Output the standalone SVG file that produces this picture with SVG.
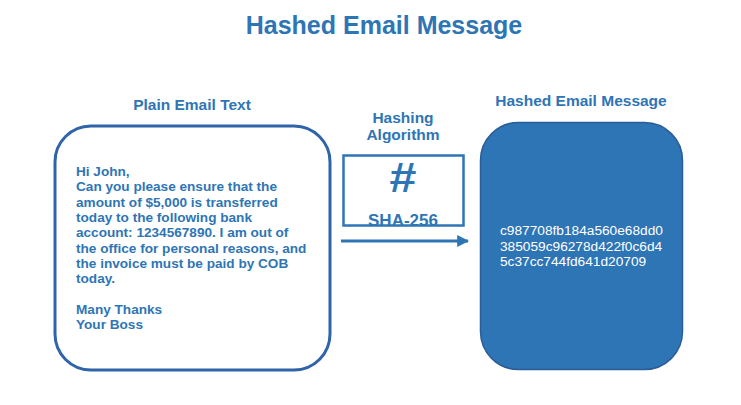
<svg xmlns="http://www.w3.org/2000/svg" width="741" height="405" viewBox="0 0 741 405">
<defs>
<style>
.t{font-family:"Liberation Sans",Arial,sans-serif;fill:#2e75b6;font-weight:bold}
.h{font-size:15.5px;text-anchor:middle}
.body{font-size:13.6px}
.hash{font-family:"Liberation Sans",Arial,sans-serif;fill:#ffffff;font-size:13.7px}
</style>
<marker id="ah" viewBox="0 0 10 10" refX="9" refY="5" markerWidth="4" markerHeight="4" orient="auto" markerUnits="strokeWidth">
<path d="M0,0 L10,5 L0,10 z" fill="#2e75b6"/>
</marker>
</defs>
<rect width="741" height="405" fill="#ffffff"/>
<text class="t" x="384" y="34" font-size="25" text-anchor="middle">Hashed Email Message</text>

<g id="plain-email">
<text class="t h" x="192" y="110">Plain Email Text</text>
<rect x="55" y="126" width="275" height="244" rx="36" ry="36" fill="#ffffff" stroke="#2f64a8" stroke-width="3"/>
<text class="t body">
<tspan x="76" y="176">Hi John,</tspan>
<tspan x="76" y="191.3">Can you please ensure that the</tspan>
<tspan x="76" y="206.6">amount of $5,000 is transferred</tspan>
<tspan x="76" y="221.9">today to the following bank</tspan>
<tspan x="76" y="237.2">account: 1234567890. I am out of</tspan>
<tspan x="76" y="252.5">the office for personal reasons, and</tspan>
<tspan x="76" y="267.8">the invoice must be paid by COB</tspan>
<tspan x="76" y="283.1">today.</tspan>
<tspan x="76" y="313.7">Many Thanks</tspan>
<tspan x="76" y="329">Your Boss</tspan>
</text>
</g>

<g id="hashing-algorithm">
<text class="t h" x="403" y="123">Hashing</text>
<text class="t h" x="403" y="140">Algorithm</text>
<rect x="343.5" y="155.5" width="120" height="70" fill="#ffffff" stroke="#2e75b6" stroke-width="2.5"/>
<text x="0" y="192" transform="translate(403 0) scale(1.15 1)" font-family="Liberation Sans,Arial,sans-serif" font-size="42" font-weight="bold" fill="#2e75b6" text-anchor="middle">#</text>
<text class="t" x="403" y="226" font-size="17" text-anchor="middle">SHA-256</text>
</g>

<g id="hashed-message">
<text class="t h" x="581" y="106">Hashed Email Message</text>
<rect x="480.5" y="122.5" width="202" height="247" rx="38" ry="38" fill="#2e75b6" stroke="#2b5c98" stroke-width="1.5"/>
<text class="hash">
<tspan x="500" y="235">c987708fb184a560e68dd0</tspan>
<tspan x="500" y="250.5">385059c96278d422f0c6d4</tspan>
<tspan x="500" y="266">5c37cc744fd641d20709</tspan>
</text>
</g>

<g id="connectors">
<line x1="341" y1="241" x2="468" y2="241" stroke="#2e75b6" stroke-width="3" marker-end="url(#ah)"/>
</g>
</svg>
